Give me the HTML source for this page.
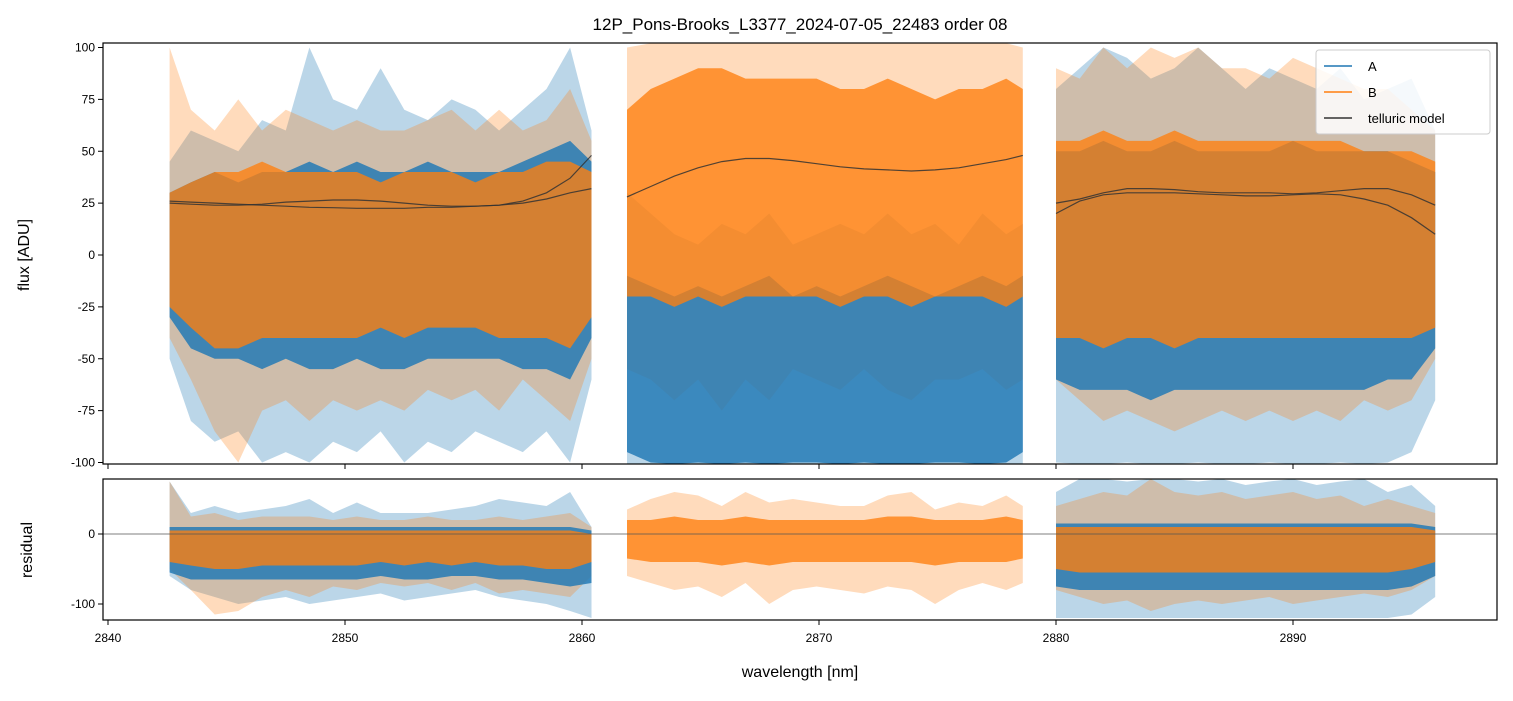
<!DOCTYPE html>
<html><head><meta charset="utf-8"><style>
body{margin:0;background:#fff}
svg text{font-family:"Liberation Sans","DejaVu Sans",sans-serif;fill:#000}
</style></head><body>
<svg id="chart" width="1513" height="696" viewBox="0 0 1513 696" xmlns="http://www.w3.org/2000/svg">
<text x="800" y="30" font-size="17" text-anchor="middle">12P_Pons-Brooks_L3377_2024-07-05_22483  order 08</text>
<g id="topPanel"></g>
<g id="botPanel"></g>
<text transform="translate(29,255) rotate(-90)" font-size="16" text-anchor="middle">flux [ADU]</text>
<text transform="translate(32,550) rotate(-90)" font-size="16" text-anchor="middle">residual</text>
<text x="800" y="677" font-size="16" text-anchor="middle">wavelength [nm]</text>
<g>
<rect x="1316" y="50" width="174" height="84" fill="#fff" fill-opacity="0.85" stroke="#ccc" rx="3"/>
<line x1="1324" y1="66" x2="1352" y2="66" stroke="#1f77b4" stroke-width="1.5"/>
<text x="1368" y="71" font-size="13">A</text>
<line x1="1324" y1="92" x2="1352" y2="92" stroke="#ff7f0e" stroke-width="1.5"/>
<text x="1368" y="97" font-size="13">B</text>
<line x1="1324" y1="118" x2="1352" y2="118" stroke="#333" stroke-width="1.5"/>
<text x="1368" y="123" font-size="13">telluric model</text>
</g>
</svg>
<script>
const wl1=[2842.6,2843.5,2844.5,2845.5,2846.5,2847.5,2848.5,2849.5,2850.5,2851.5,2852.5,2853.5,2854.5,2855.5,2856.5,2857.5,2858.5,2859.5,2860.4];
const wl2=[2861.9,2862.9,2863.9,2864.9,2865.9,2866.9,2867.9,2868.9,2869.9,2870.9,2871.9,2872.9,2873.9,2874.9,2875.9,2876.9,2877.9,2878.6];
const wl3=[2880,2881,2882,2883,2884,2885,2886,2887,2888,2889,2890,2891,2892,2893,2894,2895,2896];
const xTicks=[2840,2850,2860,2870,2880,2890];
const yTicksTop=[100,75,50,25,0,-25,-50,-75,-100];
const yTicksBot=[0,-100];
const a1OutHi=[45,60,55,50,65,60,100,75,70,90,70,65,75,70,60,70,80,100,60];
const a1OutLo=[-50,-80,-90,-85,-100,-95,-100,-90,-95,-85,-100,-90,-95,-85,-90,-95,-85,-100,-60];
const a1InHi=[30,35,40,35,40,40,45,40,45,40,40,45,40,40,40,45,50,55,45];
const a1InLo=[-30,-45,-50,-50,-55,-50,-55,-55,-50,-55,-55,-50,-50,-50,-50,-55,-55,-60,-40];
const a2OutHi=[30,20,10,5,15,10,20,5,10,15,10,20,10,15,5,20,10,15];
const a2OutLo=[-102,-102,-102,-102,-102,-102,-102,-102,-102,-102,-102,-102,-102,-102,-102,-102,-102,-102];
const a2InHi=[-10,-15,-20,-15,-20,-15,-10,-20,-15,-20,-15,-10,-15,-20,-15,-10,-15,-10];
const a2InLo=[-95,-100,-102,-100,-102,-100,-102,-100,-100,-102,-100,-102,-102,-100,-100,-102,-100,-95];
const a3OutHi=[80,90,100,95,85,90,100,90,80,90,85,80,90,75,80,85,60];
const a3OutLo=[-100,-102,-102,-100,-102,-102,-100,-102,-102,-100,-102,-102,-100,-102,-100,-95,-70];
const a3InHi=[50,50,55,50,50,55,50,50,50,50,55,50,50,50,50,45,40];
const a3InLo=[-60,-65,-65,-65,-70,-65,-65,-65,-65,-65,-65,-65,-65,-65,-60,-60,-45];
const b1OutHi=[100,70,60,75,60,70,65,60,65,60,60,65,70,60,70,60,65,80,55];
const b1OutLo=[-40,-60,-85,-100,-75,-70,-80,-70,-75,-70,-75,-65,-70,-65,-75,-60,-70,-80,-50];
const b1InHi=[30,35,40,40,45,40,40,40,40,35,40,40,40,35,40,40,45,45,40];
const b1InLo=[-25,-35,-45,-45,-40,-40,-40,-40,-40,-35,-40,-35,-35,-35,-40,-40,-40,-45,-30];
const b2OutHi=[100,102,102,102,102,102,102,102,102,102,102,102,102,102,102,102,102,100];
const b2OutLo=[-55,-60,-70,-60,-75,-60,-70,-55,-60,-65,-55,-65,-70,-60,-60,-55,-65,-60];
const b2InHi=[70,80,85,90,90,85,85,85,85,80,80,85,80,75,80,80,85,80];
const b2InLo=[-20,-20,-25,-20,-25,-20,-20,-20,-20,-25,-20,-20,-25,-20,-20,-20,-25,-20];
const b3OutHi=[90,85,100,90,100,95,100,90,90,85,95,90,85,80,80,70,60];
const b3OutLo=[-60,-70,-80,-75,-80,-85,-80,-75,-80,-75,-80,-75,-80,-70,-75,-70,-50];
const b3InHi=[55,55,60,55,55,60,55,55,55,55,55,55,55,50,50,50,45];
const b3InLo=[-40,-40,-45,-40,-40,-45,-40,-40,-40,-40,-40,-40,-40,-40,-40,-40,-35];
const t1a=[26,25.5,25,24.5,24,23.5,23,22.8,22.5,22.5,22.5,23,23,23.5,24,26,30,37,48];
const t1b=[25,24.5,24,24,24.5,25.5,26,26.5,26.5,26,25,24,23.5,23.5,24,25,27,30,32];
const t2a=[28,33,38,42,45,46.5,46.5,45.5,44,42.5,41.5,41,40.5,41,42,44,46,48];
const t3a=[20,26,29,30,30,30,29.5,29,28.5,28.5,29,29.5,29,27,24,18,10];
const t3b=[25,27,30,32,32,31.5,30.5,30,30,30,29.5,30,31,32,32,29,24];
const ra1OutHi=[75,30,40,30,35,40,50,30,45,30,30,30,35,40,50,45,40,60,10];
const ra1OutLo=[-60,-80,-90,-100,-95,-90,-100,-95,-90,-85,-95,-90,-85,-80,-90,-95,-100,-110,-120];
const ra1InHi=[10,10,10,10,10,10,10,10,10,10,10,10,10,10,10,10,10,10,5];
const ra1InLo=[-55,-65,-65,-65,-65,-65,-65,-65,-65,-60,-65,-65,-60,-60,-65,-65,-70,-75,-70];
const ra3OutHi=[60,80,80,75,80,80,75,80,70,75,80,70,75,80,60,70,40];
const ra3OutLo=[-120,-120,-120,-120,-120,-120,-120,-120,-120,-120,-120,-120,-120,-120,-120,-115,-90];
const ra3InHi=[15,15,15,15,15,15,15,15,15,15,15,15,15,15,15,15,10];
const ra3InLo=[-75,-80,-80,-80,-80,-80,-80,-80,-80,-80,-80,-80,-80,-80,-80,-75,-60];
const rb1OutHi=[75,25,30,20,25,25,25,20,25,20,20,25,20,20,25,20,25,30,10];
const rb1OutLo=[-50,-80,-115,-110,-90,-80,-90,-75,-80,-70,-75,-70,-80,-70,-85,-80,-85,-90,-60];
const rb1InHi=[5,5,5,5,5,5,5,5,5,5,5,5,5,5,5,5,5,5,0];
const rb1InLo=[-40,-45,-50,-50,-45,-45,-45,-45,-45,-40,-45,-40,-45,-40,-45,-45,-50,-50,-40];
const rb2OutHi=[35,50,60,55,40,60,45,50,45,40,40,55,60,35,45,40,55,40];
const rb2OutLo=[-60,-70,-80,-75,-90,-70,-100,-80,-75,-80,-85,-75,-80,-100,-80,-70,-80,-70];
const rb2InHi=[20,20,25,20,20,25,20,20,20,20,20,25,25,20,20,20,25,20];
const rb2InLo=[-35,-40,-40,-40,-45,-40,-45,-40,-40,-40,-40,-40,-40,-45,-40,-40,-40,-35];
const rb3OutHi=[40,50,60,55,80,60,55,60,50,55,60,50,55,40,50,40,30];
const rb3OutLo=[-80,-90,-100,-95,-110,-100,-95,-100,-95,-90,-100,-95,-90,-85,-90,-80,-60];
const rb3InHi=[10,10,10,10,10,10,10,10,10,10,10,10,10,10,10,10,5];
const rb3InLo=[-50,-55,-55,-55,-55,-55,-55,-55,-55,-55,-55,-55,-55,-55,-55,-50,-40];

const NS='http://www.w3.org/2000/svg';
const L=103,R=1497;
const xs=w=>108+(w-2840)*(1293-108)/50;
const TOPP={t:43,b:464,y:v=>255-v*2.075};
const BOTP={t:479,b:620,y:v=>534-v*0.7};
function mk(tag,attrs,parent){const e=document.createElementNS(NS,tag);for(const k in attrs)e.setAttribute(k,attrs[k]);parent.appendChild(e);return e;}
function clampY(p,v){const y=p.y(v);return Math.max(p.t,Math.min(p.b,y));}
function band(g,p,wl,hi,lo,color,op,name){
  let d='';wl.forEach((w,i)=>{d+=(i?'L':'M')+xs(w).toFixed(1)+','+clampY(p,hi[i]).toFixed(1);});
  for(let i=wl.length-1;i>=0;i--)d+='L'+xs(wl[i]).toFixed(1)+','+clampY(p,lo[i]).toFixed(1);
  const e=mk('path',{d:d+'Z',fill:color,'fill-opacity':op},g);
  
  
}
function tline(g,p,wl,v,name){
  const pts=wl.map((w,i)=>xs(w).toFixed(1)+','+p.y(v[i]).toFixed(1)).join(' ');
  const e=mk('polyline',{points:pts,fill:'none',stroke:'#333','stroke-width':1.2,'stroke-opacity':0.85},g);
  
  
}
const BL='#1f77b4',OR='#ff7f0e';
const topG=document.getElementById('topPanel'),botG=document.getElementById('botPanel');
const topA=[[wl1,a1OutHi,a1OutLo,a1InHi,a1InLo],[wl2,a2OutHi,a2OutLo,a2InHi,a2InLo],[wl3,a3OutHi,a3OutLo,a3InHi,a3InLo]];
const topB=[[wl1,b1OutHi,b1OutLo,b1InHi,b1InLo],[wl2,b2OutHi,b2OutLo,b2InHi,b2InLo],[wl3,b3OutHi,b3OutLo,b3InHi,b3InLo]];
topA.forEach((s,i)=>band(topG,TOPP,s[0],s[1],s[2],BL,0.3,'flux-a-spikes-'+(i+1)));
topB.forEach((s,i)=>band(topG,TOPP,s[0],s[1],s[2],OR,0.28,'flux-b-spikes-'+(i+1)));
topA.forEach((s,i)=>band(topG,TOPP,s[0],s[3],s[4],BL,0.82,'flux-a-core-'+(i+1)));
topB.forEach((s,i)=>band(topG,TOPP,s[0],s[3],s[4],OR,0.78,'flux-b-core-'+(i+1)));
tline(topG,TOPP,wl1,t1a,'telluric-a-1');tline(topG,TOPP,wl1,t1b,'telluric-b-1');
tline(topG,TOPP,wl2,t2a,'telluric-2');tline(topG,TOPP,wl3,t3a,'telluric-a-3');tline(topG,TOPP,wl3,t3b,'telluric-b-3');
const botA=[[wl1,ra1OutHi,ra1OutLo,ra1InHi,ra1InLo],[wl3,ra3OutHi,ra3OutLo,ra3InHi,ra3InLo]];
const botB=[[wl1,rb1OutHi,rb1OutLo,rb1InHi,rb1InLo],[wl2,rb2OutHi,rb2OutLo,rb2InHi,rb2InLo],[wl3,rb3OutHi,rb3OutLo,rb3InHi,rb3InLo]];
botA.forEach((s,i)=>band(botG,BOTP,s[0],s[1],s[2],BL,0.3,'resid-a-spikes-'+(i+1)));
botB.forEach((s,i)=>band(botG,BOTP,s[0],s[1],s[2],OR,0.28,'resid-b-spikes-'+(i+1)));
botA.forEach((s,i)=>band(botG,BOTP,s[0],s[3],s[4],BL,0.82,'resid-a-core-'+(i+1)));
botB.forEach((s,i)=>band(botG,BOTP,s[0],s[3],s[4],OR,0.78,'resid-b-core-'+(i+1)));
mk('line',{x1:L,x2:R,y1:BOTP.y(0),y2:BOTP.y(0),stroke:'#555','stroke-width':0.7},botG);
[[topG,TOPP],[botG,BOTP]].forEach(([g,p],k)=>{
  mk('rect',{x:L,y:p.t,width:R-L,height:p.b-p.t,fill:'none',stroke:'#000','stroke-width':1.2},g);
  xTicks.forEach(t=>{const x=xs(t);mk('line',{x1:x,x2:x,y1:p.b,y2:p.b+5,stroke:'#000'},g);
    if(k===1){const e=mk('text',{x:x,y:p.b+22,'font-size':12,'text-anchor':'middle'},g);e.textContent=t;
      }});
  (k?yTicksBot:yTicksTop).forEach(t=>{const y=p.y(t);mk('line',{x1:L-5,x2:L,y1:y,y2:y,stroke:'#000'},g);
    const e=mk('text',{x:L-8,y:y+4,'font-size':12,'text-anchor':'end'},g);e.textContent=t;
    });
});
</script>
</body></html>
